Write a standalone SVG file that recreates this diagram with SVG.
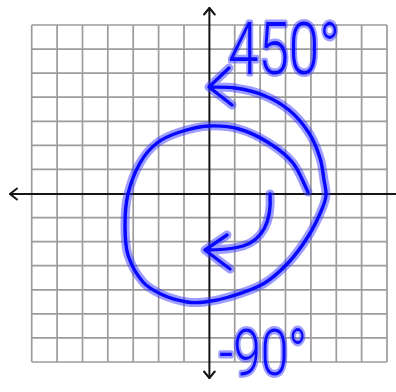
<svg xmlns="http://www.w3.org/2000/svg" width="396" height="392" viewBox="0 0 396 392">
<defs>
<style>
.grid{stroke:#9c9c9c;stroke-width:1.7;fill:none}
.axis{stroke:#151515;stroke-width:2;fill:none;stroke-linecap:round;stroke-linejoin:round}
.halo{stroke:#3c3cff;stroke-opacity:0.5;stroke-width:9;fill:none;stroke-linecap:round;stroke-linejoin:round}
.ink{stroke:#0808ff;stroke-width:3.4;fill:none;stroke-linecap:round;stroke-linejoin:round}
.lbl{font-family:Roboto,"Liberation Sans",sans-serif;font-weight:300;fill:#0a0aff;stroke:#3c3cff;stroke-opacity:0.5;stroke-width:5;paint-order:stroke;stroke-linejoin:round}
</style>
<path id="spiralA" d="M308,192 C303,182.3 299.5,171.2 293,163 C286.5,154.8 278,148.7 269,143 C260,137.3 249,131.8 239,129 C229,126.2 218.8,125.5 209,126 C199.2,126.5 188.7,129.2 180,132 C171.3,134.8 163.7,137.8 157,143 C150.3,148.2 144.8,154.5 140,163 C135.2,171.5 130.5,183.7 128,194 C125.5,204.3 125,214.8 125,225 C125,235.2 125,245.5 128,255 C131,264.5 137.2,275.3 143,282 C148.8,288.7 155.7,291.7 163,295 C170.3,298.3 180,300.8 187,302 C194,303.2 198,302.8 205,302 C212,301.2 219.3,300 229,297 C238.7,294 253,289.8 263,284 C273,278.2 281.3,270.2 289,262 C296.7,253.8 303.5,243.8 309,235 C314.5,226.2 319.2,215.7 322,209 C324.8,202.3 325.7,199.8 326,195 C326.3,190.2 325,186.2 324,180 C323,173.8 322.5,165.8 320,158 C317.5,150.2 314.2,141 309,133 C303.8,125 296.7,116.3 289,110 C281.3,103.7 272,98.7 263,95 C254,91.3 244,89.3 235,88 C226,86.7 217.7,87.3 209,87 M229,68 L209,87 L232,105"/>
<path id="spiralB" d="M270,194 C272,222 262,240 243,246 C233,249 218,250 205,250 M227,235 L205,250 L230,269"/>
</defs>
<g id="grid">
<path class="grid" d="M31.7,25V362M57.1,25V362M82.5,25V362M107.8,25V362M133.2,25V362M158.6,25V362M184,25V362M234.7,25V362M260.1,25V362M285.5,25V362M310.9,25V362M336.3,25V362M361.6,25V362M387,25V362"/>
<path class="grid" d="M31.7,25H387M31.7,49.1H387M31.7,73.1H387M31.7,97.2H387M31.7,121.3H387M31.7,145.4H387M31.7,169.4H387M31.7,217.6H387M31.7,241.6H387M31.7,265.7H387M31.7,289.8H387M31.7,313.8H387M31.7,337.9H387M31.7,362H387"/>
</g>
<g id="axes">
<path class="axis" d="M10,194H396M209.4,8V378"/>
<path class="axis" d="M17,188.5L10,194L17,199.5M204,14.5L209.4,8L214.8,14.5M204,371.5L209.4,378L214.8,371.5"/>
</g>
<g id="connectors">
<g id="arc-450">
<use href="#spiralA" class="halo"/>
<use href="#spiralA" class="ink"/>
</g>
<g id="arc-neg90">
<use href="#spiralB" class="halo"/>
<use href="#spiralB" class="ink"/>
</g>
</g>
<g id="label-450">
<text class="lbl" x="228" y="74" font-size="72" textLength="112" lengthAdjust="spacingAndGlyphs">450°</text>
</g>
<g id="label-neg90">
<text class="lbl" x="219" y="375" font-size="64" textLength="88" lengthAdjust="spacingAndGlyphs">-90°</text>
</g>
</svg>
